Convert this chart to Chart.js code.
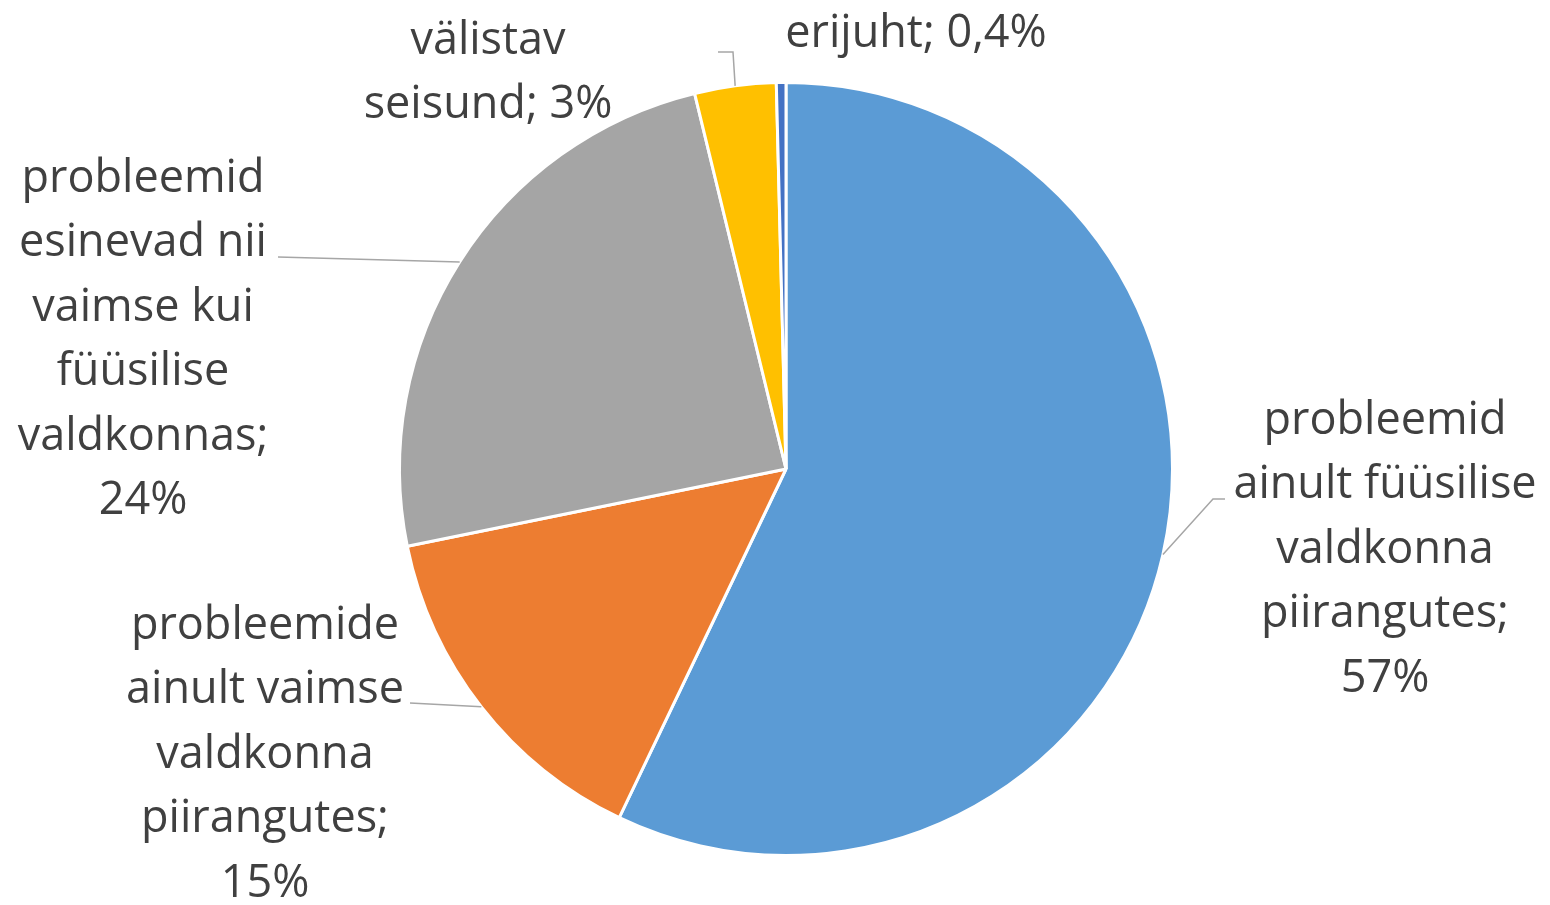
<!DOCTYPE html>
<html>
<head>
<meta charset="utf-8">
<script src="https://cdn.jsdelivr.net/npm/chart.js@4.4.0/dist/chart.umd.min.js"></script>
<style>
  html, body { margin: 0; padding: 0; background: #ffffff; }
  #wrap { width: 1550px; height: 905px; position: relative; }
</style>
</head>
<body>
<div id="wrap"><canvas id="chart"></canvas></div>
<script>
// categories (split into label lines) and shares in percent
const categories = [
  ['probleemid', 'ainult füüsilise', 'valdkonna', 'piirangutes;'],
  ['probleemide', 'ainult vaimse', 'valdkonna', 'piirangutes;'],
  ['probleemid', 'esinevad nii', 'vaimse kui', 'füüsilise', 'valdkonnas;'],
  ['välistav', 'seisund;'],
  ['erijuht;']
];
const shares = [57.1, 14.7, 24.4, 3.4, 0.4];
const colors = ['#5B9BD5', '#ED7D31', '#A5A5A5', '#FFC000', '#4472C4'];

// label layout: text centre x, first line centre y, leader elbow points
const labelLayout = [
  { x: 1385, y: 421, leader: [[1213, 499], [1225, 499]] },
  { x: 265, y: 626, leader: [[410, 703]] },
  { x: 143, y: 179, leader: [[278, 257]] },
  { x: 488, y: 41, leader: [[733, 52], [718, 52]], inline: true },
  { x: 916, y: 34, leader: null, inline: true }
];
const lineGap = 64.5;

function pctText(v) {
  const s = v < 1 ? v.toFixed(1) : Math.round(v).toString();
  return s.replace('.', ',') + '%';
}

const pieLabels = {
  id: 'pieLabels',
  afterDatasetsDraw(chart) {
    const ctx = chart.ctx;
    const arcs = chart.getDatasetMeta(0).data;
    ctx.save();
    arcs.forEach((arc, i) => {
      const lay = labelLayout[i];
      const mid = (arc.startAngle + arc.endAngle) / 2;
      const ex = arc.x + Math.cos(mid) * arc.outerRadius;
      const ey = arc.y + Math.sin(mid) * arc.outerRadius;
      if (lay.leader) {
        ctx.strokeStyle = '#A6A6A6';
        ctx.lineWidth = 1.5;
        ctx.beginPath();
        ctx.moveTo(ex, ey);
        lay.leader.forEach(p => ctx.lineTo(p[0], p[1]));
        ctx.stroke();
      }
      const lines = categories[i].slice();
      const pct = pctText(shares[i]);
      if (lay.inline) {
        lines[lines.length - 1] += ' ' + pct;
      } else {
        lines.push(pct);
      }
      ctx.fillStyle = '#404040';
      ctx.font = '45px "Open Sans", sans-serif';
      ctx.textAlign = 'center';
      ctx.textBaseline = 'middle';
      lines.forEach((t, k) => ctx.fillText(t, lay.x, lay.y + k * lineGap));
    });
    ctx.restore();
  }
};

new Chart(document.getElementById('chart'), {
  type: 'pie',
  data: {
    labels: categories.map(c => c.join(' ')),
    datasets: [{
      data: shares,
      backgroundColor: colors,
      borderColor: '#ffffff',
      borderWidth: 3
    }]
  },
  options: {
    responsive: true,
    maintainAspectRatio: false,
    animation: false,
    layout: { padding: { top: 81, bottom: 48, left: 398, right: 376 } },
    plugins: {
      legend: { display: false },
      tooltip: { enabled: false }
    }
  },
  plugins: [pieLabels]
});
</script>
</body>
</html>
